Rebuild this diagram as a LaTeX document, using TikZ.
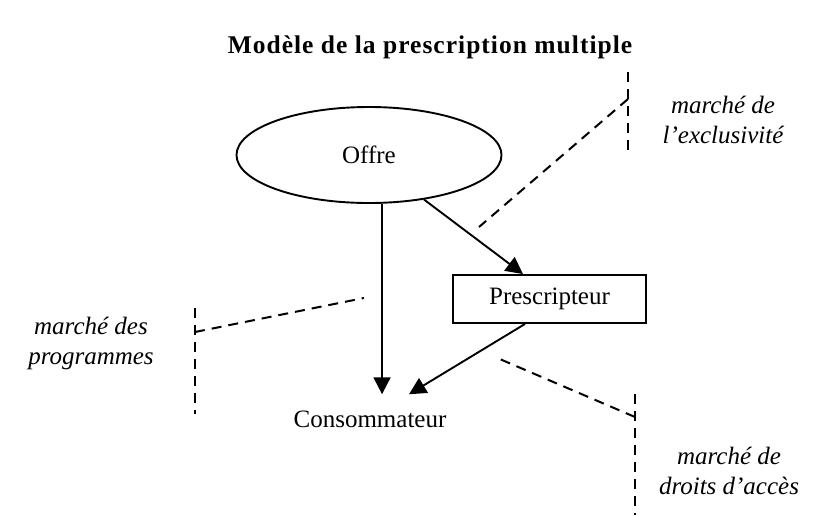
\documentclass[tikz,border=0pt]{standalone}
\usepackage{fontspec}
\setmainfont{Liberation Serif}
\usetikzlibrary{arrows.meta,shapes.geometric}
\begin{document}
\begin{tikzpicture}[x=1pt,y=-1pt,
  lbl/.style={font=\fontsize{25}{30}\selectfont},
  mkt/.style={font=\fontsize{25}{30}\selectfont\itshape, align=center},
  arr/.style={line width=1.9pt, -{Triangle[length=17pt,width=17pt]}},
  dsh/.style={line width=2pt, dash pattern=on 10pt off 7pt}]
\useasboundingbox (0,0) rectangle (824,515);
\node[font=\fontsize{25.5}{30}\selectfont\bfseries\addfontfeature{LetterSpace=4}] (title) at (430,47) {Modèle de la prescription multiple};
\node[lbl, draw, ellipse, line width=1.9pt, minimum width=265pt, minimum height=96pt, inner sep=0pt] (offre) at (369,155) {Offre};
\node[lbl, draw, line width=1.9pt, minimum width=193pt, minimum height=48pt, inner sep=0pt] (presc) at (549.5,299) {Prescripteur};
\node[lbl, anchor=base, inner ysep=16pt] (cons) at (370,427) {Consommateur};
\draw[arr] (offre.-75) -- (offre.-75 |- cons.north);
\draw[arr] (offre.-39) -- ([xshift=-26.5pt]presc.north);
\draw[arr] ([xshift=-24.5pt]presc.south) -- ([xshift=39pt]cons.north);
% dashed market boundaries
\coordinate (a1) at (628,72); \coordinate (a2) at (628,157);
\coordinate (a3) at (628,99); \coordinate (a4) at (479,227);
\draw[dsh] (a1) -- (a2);
\draw[dsh] (a3) -- (a4);
\coordinate (b1) at (195,308); \coordinate (b2) at (195,414);
\coordinate (b3) at (195,332); \coordinate (b4) at (364,298);
\draw[dsh] (b1) -- (b2);
\draw[dsh] (b3) -- (b4);
\coordinate (c1) at (635,394); \coordinate (c2) at (635,515);
\coordinate (c3) at (635,417); \coordinate (c4) at (495,357);
\draw[dsh] (c1) -- (c2);
\draw[dsh] (c3) -- (c4);
\node[mkt] (m1) at (723,120) {marché de\\l’exclusivité};
\node[mkt] (m2) at (91,343) {marché des\\programmes};
\node[mkt] (m3) at (729,471) {marché de\\droits d’accès};
\end{tikzpicture}
\end{document}
